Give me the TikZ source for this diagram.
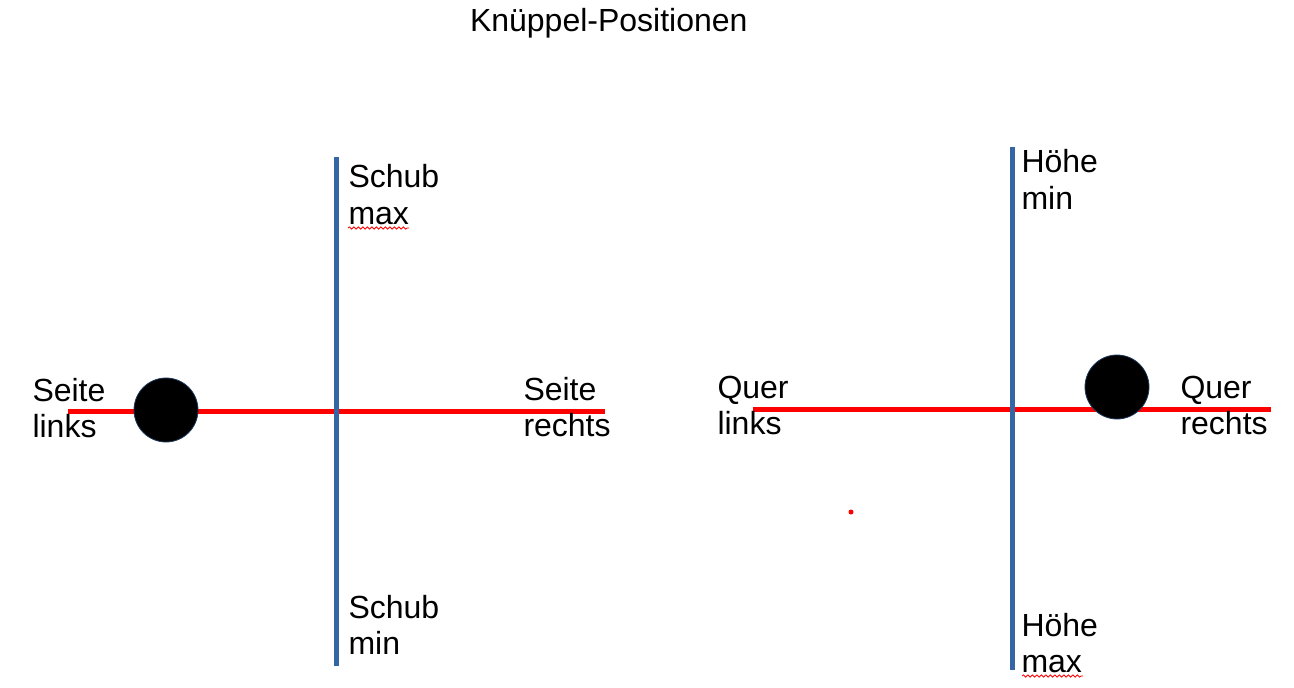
\documentclass[tikz,border=0pt]{standalone}
\usepackage{fontspec}
\setmainfont{Liberation Sans}
\usetikzlibrary{decorations.pathmorphing}
\definecolor{axisblue}{HTML}{3465A4}
\definecolor{axisred}{HTML}{FF0000}
\definecolor{knobedge}{HTML}{1C3A5C}
\newcommand{\twolines}[2]{\begin{tabular}[t]{@{}l@{}}#1\\#2\end{tabular}}
\begin{document}
\begin{tikzpicture}[x=1pt,y=-1pt,
  lbl/.style={anchor=base west, inner sep=0pt, outer sep=0pt, font=\fontsize{32}{36.8}\selectfont},
  redaxis/.style={draw=axisred, line width=5pt},
  blueaxis/.style={draw=axisblue, line width=5pt},
  knob/.style={circle, fill=black, draw=knobedge, line width=0.8pt, minimum size=64pt, inner sep=0pt},
  squiggle/.style={draw=axisred, line width=0.8pt, decorate, decoration={snake, amplitude=1.1pt, segment length=4.5pt}}]
\useasboundingbox (0,0) rectangle (1294,688);
% title
\node[lbl] (title) at (470,31) {Knüppel-Positionen};
% left stick
\coordinate (lredL) at (68,411.8);
\coordinate (lredR) at (605,411.8);
\coordinate (lblueT) at (336.7,157);
\coordinate (lblueB) at (336.7,666);
\draw[redaxis] (lredL) -- (lredR);
\draw[blueaxis] (lblueT) -- (lblueB);
\node[knob] (lknob) at (166,410) {};
\node[lbl] (schubmax) at (348.5,187.5) {\twolines{Schub}{max}};
\node[lbl] (schubmin) at (348.5,618) {\twolines{Schub}{min}};
\node[lbl] (seitel) at (32.5,401) {\twolines{Seite}{links}};
\node[lbl] (seiter) at (523.5,400) {\twolines{Seite}{rechts}};
\coordinate (sq1a) at (348,228);
\coordinate (sq1b) at (409,228);
\draw[squiggle] (sq1a) -- (sq1b);
% right stick
\coordinate (rredL) at (753,409.3);
\coordinate (rredR) at (1271,409.3);
\coordinate (rblueT) at (1012,147);
\coordinate (rblueB) at (1012,670);
\draw[redaxis] (rredL) -- (rredR);
\draw[blueaxis] (rblueT) -- (rblueB);
\node[knob] (rknob) at (1117,387) {};
\node[lbl] (querl) at (717.5,398) {\twolines{Quer}{links}};
\node[lbl] (querr) at (1180.5,398) {\twolines{Quer}{rechts}};
\node[lbl] (hoehemin) at (1021.5,172.5) {\twolines{Höhe}{min}};
\node[lbl] (hoehemax) at (1021.5,636) {\twolines{Höhe}{max}};
\coordinate (sq2a) at (1022,676);
\coordinate (sq2b) at (1083,676);
\draw[squiggle] (sq2a) -- (sq2b);
% stray dot
\fill[axisred] (851,512) circle (2.5pt);
\end{tikzpicture}
\end{document}
